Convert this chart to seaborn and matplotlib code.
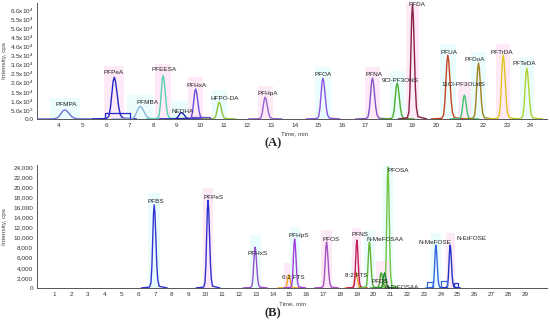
import numpy as np
import pandas as pd
import matplotlib
matplotlib.use("Agg")
import matplotlib.pyplot as plt
import seaborn as sns

# Panel A: PFCAs / ether acids (retention time, peak height)
a_names = ["PFMPA", "PFPeA", "PFMBA", "PFEESA", "NEDHA", "PFHxA", "HFPO-DA", "PFHpA",
           "PFOA", "PFNA", "9Cl-PF3ONS", "PFDA", "PFUA", "11Cl-PF3OUdS", "PFDoA",
           "PFTrDA", "PFTeDA"]
a_rt = [4.25, 6.35, 7.45, 8.42, 9.2, 9.8, 10.8, 12.75, 15.2, 17.3, 18.35, 19.0,
        20.5, 21.2, 21.8, 22.85, 23.85]
a_height = [5000, 23000, 7000, 24000, 3500, 16500, 9300, 12000, 22500, 22500,
            19800, 63000, 35200, 13200, 30800, 35200, 28000]
a_width = [2.6, 1.7, 2.2, 1.3, 1.7, 1.3, 1.3, 1.3, 1.3, 1.3, 1.3, 1.1, 1.3, 1.1,
           1.2, 1.2, 1.2]
a_colors = ["#6f73d8", "#2426c8", "#8eb4dc", "#55d0b0", "#2024b4", "#6a4cdc",
            "#8cc33a", "#9462d4", "#8a52e2", "#8452c4", "#4cae2c", "#8a1f45",
            "#c8421e", "#3cc46c", "#a07e1c", "#e2c41e", "#b2d22e"]
a_label_x = [4.3, 6.3, 7.75, 8.45, 9.25, 9.85, 11.05, 12.85, 15.2, 17.35, 18.5,
             19.2, 20.55, 21.15, 21.65, 22.8, 23.75]
a_label_y = [6500, 24500, 7800, 26000, 2800, 17200, 9800, 12400, 23000, 23000,
             19800, 61500, 35000, 17800, 31400, 35500, 29200]

# raised baselines (start, end, level, colour) seen beside some peaks
a_shelf_start = [5.95, 8.95, 9.6]
a_shelf_end = [7.0, 9.5, 10.4]
a_shelf_level = [3500, 600, 1200]
a_shelf_color = ["#2426c8", "#2024b4", "#6a4cdc"]

# Panel B: sulfonates / sulfonamides
b_names = ["PFBS", "PFPeS", "PFHxS", "6:2 FTS", "PFHpS", "PFOS", "8:2 FTS", "PFNS",
           "N-MeFOSAA", "PFDS", "PFOSA", "N-EtFOSAA", "N-MeFOSE", "N-EtFOSE"]
b_rt = [6.95, 10.15, 12.95, 14.95, 15.3, 17.2, 18.95, 19.0, 19.75, 20.45, 20.85,
        20.65, 23.7, 24.55]
b_height = [16500, 17400, 8100, 2600, 9700, 9100, 3200, 9500, 9100, 3000, 24000,
            3000, 8500, 8500]
b_width = [1.4, 1.3, 1.3, 1.2, 1.2, 1.3, 1.2, 1.1, 1.2, 1.2, 1.1, 1.2, 1.1, 1.1]
b_colors = ["#3234d4", "#2f2fd0", "#9650d2", "#f2a21e", "#a23ee0", "#a650c2",
            "#f0a81e", "#c0205c", "#62b432", "#4aa82a", "#72c442", "#1f8a34",
            "#3466e2", "#2232c4"]
b_label_x = [7.05, 10.45, 13.1, 15.2, 15.55, 17.45, 18.95, 19.2, 20.7, 20.4, 21.45,
             21.65, 23.65, 25.8]
b_label_y = [16600, 17500, 6400, 1500, 9900, 9200, 2000, 10100, 9200, 700, 22900,
             -500, 8600, 9300]

b_shelf_start = [23.2, 24.0, 24.8]
b_shelf_end = [23.55, 24.35, 25.0]
b_shelf_level = [1100, 1300, 1000]
b_shelf_color = ["#3466e2", "#3466e2", "#2232c4"]

# normalised peak profile (offset in min, fraction of height)
profile_dt = [-0.55, -0.2, -0.14, -0.1, -0.06, -0.03, 0.0, 0.03, 0.07, 0.11, 0.15,
              0.21, 0.55]
profile_y = [0.0, 0.01, 0.06, 0.25, 0.62, 0.9, 1.0, 0.9, 0.6, 0.28, 0.1, 0.02, 0.0]

a_ticks_y = [0, 5000, 10000, 15000, 20000, 25000, 30000, 35000, 40000, 45000,
             50000, 55000, 60000]
a_tick_labels = ["0.0", "5.0x10$^3$", "1.0x10$^4$", "1.5x10$^4$", "2.0x10$^4$",
                 "2.5x10$^4$", "3.0x10$^4$", "3.5x10$^4$", "4.0x10$^4$",
                 "4.5x10$^4$", "5.0x10$^4$", "5.5x10$^4$", "6.0x10$^4$"]
b_ticks_y = list(range(0, 24001, 2000))
b_tick_labels = ["0"] + [f"{v:,}" for v in b_ticks_y[1:]]


def build_traces(names, rts, heights, widths):
    rows = []
    for n, rt, h, w in zip(names, rts, heights, widths):
        for dt, f in zip(profile_dt, profile_y):
            rows.append({"name": n, "time": rt + dt * w, "intensity": h * f})
    return pd.DataFrame(rows)


sns.set_style("white")
plt.rcParams["font.family"] = ["Liberation Sans", "DejaVu Sans"]
plt.rcParams["mathtext.fontset"] = "custom"
plt.rcParams["mathtext.rm"] = "Liberation Sans"

fig = plt.figure(figsize=(5.5, 3.25), dpi=100)
ax_a = fig.add_axes([0.0673, 0.634, 0.927, 0.357])
ax_b = fig.add_axes([0.0673, 0.114, 0.927, 0.378])

panels = [
    (ax_a, a_names, a_rt, a_height, a_width, a_colors, a_label_x, a_label_y,
     (3.07, 24.7), (0, 64000), range(4, 25), a_ticks_y, a_tick_labels, 14.0,
     (a_shelf_start, a_shelf_end, a_shelf_level, a_shelf_color)),
    (ax_b, b_names, b_rt, b_height, b_width, b_colors, b_label_x, b_label_y,
     (-0.02, 30.3), (0, 24400), range(1, 30), b_ticks_y, b_tick_labels, 15.2,
     (b_shelf_start, b_shelf_end, b_shelf_level, b_shelf_color)),
]

for (ax, names, rts, hts, wds, cols, lx, ly, xlim, ylim, xt, yt, ytl,
     tx, shelves) in panels:
    df = build_traces(names, rts, hts, wds)
    # faint highlight bands behind peaks
    for i, (rt, w, h) in enumerate(zip(rts, wds, hts)):
        band = "#fdeaf6" if i % 2 else "#eafcfc"
        ax.axvspan(rt - 0.25 * w, rt + 0.25 * w, ymin=0,
                   ymax=min(1.0, h / ylim[1] + 0.1),
                   color=band, lw=0, zorder=0)
    sns.lineplot(data=df, x="time", y="intensity", hue="name",
                 palette=dict(zip(names, cols)), estimator=None, sort=True,
                 legend=False, lw=1.0, ax=ax)
    for s0, s1, lev, c in zip(*shelves):
        sns.lineplot(x=[s0, s0, s1, s1], y=[0, lev, lev, 0], color=c,
                     estimator=None, sort=False, lw=0.9, ax=ax)
    for n, x, y in zip(names, lx, ly):
        ax.text(x, y, n, fontsize=4.6, ha="center", va="bottom", color="#222222")
    ax.set_xlim(*xlim)
    ax.set_ylim(*ylim)
    ax.set_xticks(list(xt))
    ax.set_yticks(yt)
    ax.set_yticklabels(ytl)
    ax.tick_params(labelsize=4.6, length=1.5, width=0.5, pad=1.2,
                   colors="#333333")
    ax.set_xlabel("")
    ax.set_ylabel("Intensity, cps", fontsize=4.6, color="#444444")
    ax.yaxis.set_label_coords(-0.058, 0.5)
    for s in ["top", "right"]:
        ax.spines[s].set_visible(False)
    for s in ["left", "bottom"]:
        ax.spines[s].set_color("#555555")
        ax.spines[s].set_linewidth(0.7)
    ax.text(tx, -0.11, "Time, min", transform=ax.get_xaxis_transform(),
            fontsize=4.5, ha="center", va="top", color="#444444")

fig.text(0.496, 0.56, "(A)", fontsize=9, fontweight="bold",
         family="Liberation Serif", ha="center", va="center")
fig.text(0.496, 0.037, "(B)", fontsize=9, fontweight="bold",
         family="Liberation Serif", ha="center", va="center")

fig.savefig("out.png", dpi=100)
